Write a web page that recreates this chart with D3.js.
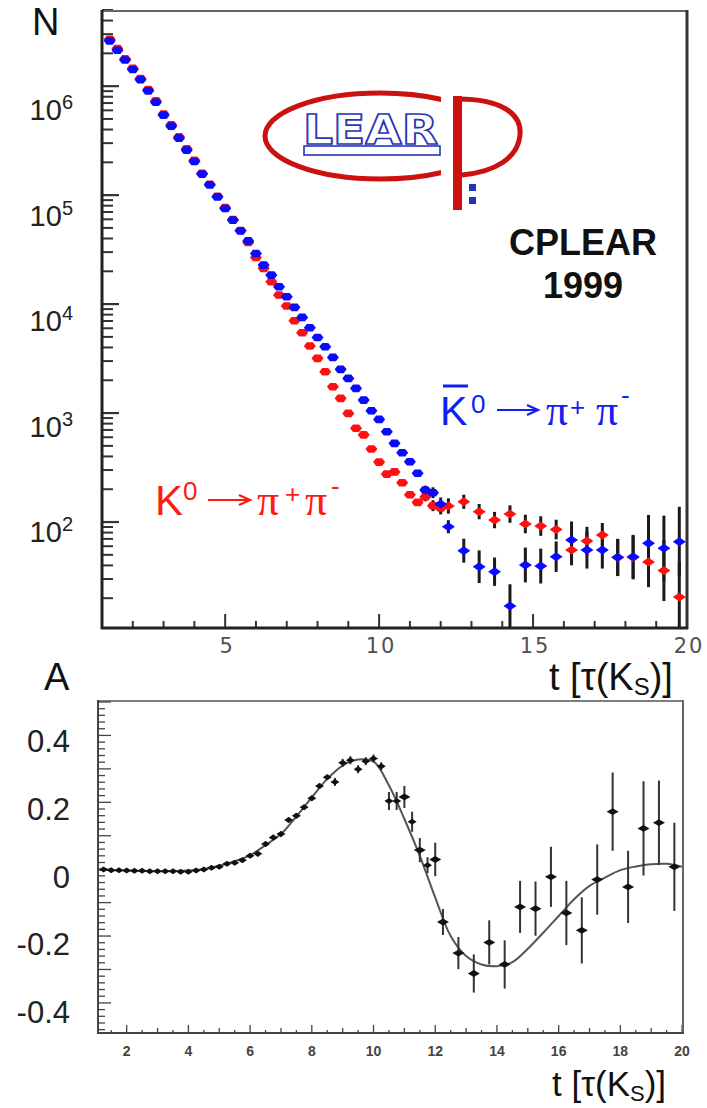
<!DOCTYPE html>
<html><head><meta charset="utf-8">
<script src="https://cdn.jsdelivr.net/npm/d3@7"></script>
<style>body{margin:0;background:#fff}svg{display:block}</style>
</head><body>
<script>
// ---------------- DATA ----------------
// decay-time bins (units of K_S lifetime)
const tBins = [1.25,1.5,1.75,2,2.25,2.5,2.75,3,3.25,3.5,3.75,4,4.25,4.5,4.75,5,5.25,5.5,5.75,6,
  6.25,6.5,6.75,7,7.25,7.5,7.75,8,8.25,8.5,8.75,9,9.25,9.5,9.75,10,10.25,10.5,10.75,11,11.25,11.5,11.75,12,
  12.25,12.75,13.25,13.75,14.25,14.75,15.25,15.75,16.25,16.75,17.25,17.75,18.25,18.75,19.25,19.75];
// log10(N) for K0 -> pi+ pi- (red)
const logNK0 = [6.43,6.345,6.25,6.165,6.07,5.97,5.865,5.745,5.645,5.535,5.425,5.32,5.2,5.1,4.99,4.885,4.775,4.675,
  4.565,4.428,4.328,4.205,4.083,3.982,3.847,3.737,3.615,3.502,3.379,3.241,3.135,2.997,
  2.86,2.8,2.67,2.55,2.44,2.46,2.36,2.25,2.18,2.23,2.15,2.13,
  2.147,2.186,2.095,2.018,2.073,1.982,1.963,1.931,1.743,1.826,1.881,1.674,1.674,1.633,1.555,1.312];
// log10(N) for K0bar -> pi+ pi- (blue)
const logNK0bar = [6.416,6.33,6.24,6.153,6.06,5.957,5.853,5.734,5.633,5.523,5.413,5.309,5.193,5.094,4.984,4.878,4.771,4.672,
  4.58,4.465,4.358,4.266,4.159,4.067,3.97,3.878,3.783,3.694,3.608,3.511,3.401,3.318,
  3.227,3.119,3.021,2.942,2.828,2.722,2.636,2.553,2.447,2.294,2.269,2.165,
  1.957,1.737,1.59,1.544,1.229,1.606,1.596,1.682,1.835,1.743,1.743,1.676,1.682,1.805,1.759,1.82];
// error half-lengths in decades
const errK0 = [0,0,0,0,0,0,0,0,0,0,0,0,0,0,0,0,0,0,0,0,0,0,0,0,0,0,0,0,0,0,0,0,0,0,0,0,0,0,0,0,
  0.03,0.04,0.05,0.06,
  0.07,0.065,0.07,0.075,0.08,0.085,0.09,0.09,0.14,0.13,0.11,0.17,0.2,0.23,0.28,0.32];
const errK0bar = [0,0,0,0,0,0,0,0,0,0,0,0,0,0,0,0,0,0,0,0,0,0,0,0,0,0,0,0,0,0,0,0,0,0,0,0,0,0,0,0,
  0.03,0.04,0.05,0.06,
  0.06,0.11,0.15,0.13,0.2,0.16,0.16,0.14,0.17,0.17,0.17,0.17,0.2,0.26,0.3,0.32];
const topYTicks = [1e2,1e3,1e4,1e5,1e6];
const topYTickExp = ["2","3","4","5","6"];
const topXTicks = [5,10,15,20];

// asymmetry panel
const asym = [-0.001,-0.003,-0.003,-0.004,-0.005,-0.005,-0.006,-0.006,-0.006,-0.006,
  -0.008,-0.008,-0.004,-0.001,0.004,0.007,0.016,0.019,0.027,0.040,
  0.046,0.075,0.095,0.105,0.147,0.160,0.185,0.212,0.249,0.275,
  0.261,0.318,0.326,0.299,0.323,0.331,0.308,0.204,0.204,0.216,
  0.142,0.057,0.012,0.029,
  -0.158,-0.251,-0.312,-0.219,-0.285,-0.113,-0.118,-0.023,-0.131,-0.183,-0.031,0.172,-0.053,0.122,0.139,0.007];
const asymErr = [0.004,0.004,0.004,0.004,0.004,0.004,0.004,0.004,0.004,0.004,
  0.004,0.004,0.004,0.004,0.004,0.004,0.004,0.004,0.004,0.004,
  0.008,0.008,0.008,0.008,0.008,0.008,0.008,0.008,0.008,0.008,
  0.012,0.012,0.012,0.012,0.012,0.012,0.012,0.027,0.027,0.033,
  0.03,0.036,0.024,0.05,
  0.039,0.048,0.057,0.066,0.072,0.078,0.081,0.09,0.096,0.099,0.105,0.117,0.108,0.141,0.126,0.132];
const fitT = [1.07,2,3,4,4.5,5,5.5,6,6.5,7,7.5,8,8.5,9,9.5,10,10.5,11,11.5,12,12.5,13,13.5,14,14.5,15,15.5,16,16.5,17,17.5,18,18.5,19,19.5,20];
const fitA = [-0.002,-0.004,-0.006,-0.004,0.0,0.01,0.024,0.042,0.072,0.105,0.158,0.215,0.27,0.31,0.328,0.322,0.25,0.15,0.04,-0.085,-0.2,-0.26,-0.285,-0.29,-0.278,-0.238,-0.19,-0.14,-0.09,-0.05,-0.025,-0.003,0.008,0.015,0.016,0.007];
const botYTicks = [0.4,0.2,0,-0.2,-0.4];
const botXTicks = [2,4,6,8,10,12,14,16,18,20];

// ---------------- DRAW ----------------
const svg = d3.select("body").append("svg").attr("width",707).attr("height",1108);
const defs = svg.append("defs");
defs.append("clipPath").attr("id","clipT").append("rect").attr("x",103).attr("y",12).attr("width",583).attr("height",615);
defs.append("clipPath").attr("id","clipB").append("rect").attr("x",99).attr("y",702).attr("width",583).attr("height",330);
defs.append("clipPath").attr("id","clipLogo").append("rect").attr("x",250).attr("y",80).attr("width",191).attr("height",120);

const SANS = "'Liberation Sans', Arial, sans-serif";
const SERIF = "'Liberation Serif', 'DejaVu Serif', serif";

// ===== TOP PANEL =====
const xT = d3.scaleLinear().domain([1,20]).range([102,687]);
const yT = d3.scaleLog().domain([10,5e6]).range([631,10]);
const yTLab = d3.scaleLog().domain([1e2,1e6]).range([542,120]);
const gT = svg.append("g");

// logo
const logo = gT.append("g");
logo.append("ellipse").attr("cx",380).attr("cy",136).attr("rx",115).attr("ry",43)
  .attr("fill","none").attr("stroke","#cc1111").attr("stroke-width",5).attr("clip-path","url(#clipLogo)");
logo.append("rect").attr("x",304).attr("y",146).attr("width",136).attr("height",9)
  .attr("fill","#fff").attr("stroke","#2a35b5").attr("stroke-width",1.6);
logo.append("text").attr("x",303).attr("y",144).attr("textLength",135).attr("lengthAdjust","spacingAndGlyphs")
  .attr("font-family","'DejaVu Sans', sans-serif").attr("font-weight","bold").attr("font-size",40)
  .attr("fill","#fff").attr("stroke","#2a35b5").attr("stroke-width",1.6).text("LEAR");
logo.append("rect").attr("x",453).attr("y",96).attr("width",9).attr("height",114).attr("fill","#cc1111");
logo.append("path").attr("d","M458,99 C500,99 522,113 520,135 C518,158 495,172 462,175")
  .attr("fill","none").attr("stroke","#cc1111").attr("stroke-width",5);
logo.append("rect").attr("x",469).attr("y",184).attr("width",7).attr("height",7).attr("fill","#2233bb");
logo.append("rect").attr("x",469).attr("y",197).attr("width",7).attr("height",7).attr("fill","#2233bb");

// CPLEAR 1999
gT.append("text").attr("x",583).attr("y",255).attr("text-anchor","middle").attr("font-family",SANS)
  .attr("font-weight","bold").attr("font-size",36).attr("fill","#111").text("CPLEAR");
gT.append("text").attr("x",583).attr("y",298).attr("text-anchor","middle").attr("font-family",SANS)
  .attr("font-weight","bold").attr("font-size",36).attr("fill","#111").text("1999");

// ticks (inside)
const yMinor = yT.ticks(20).filter(v => v > 10 && !topYTicks.includes(v));
gT.selectAll("line.ymin").data(yMinor).join("line")
  .attr("x1",102).attr("x2",113).attr("y1",d=>yT(d)).attr("y2",d=>yT(d))
  .attr("stroke","#333").attr("stroke-width",2);
gT.selectAll("line.ymaj").data(topYTicks).join("line")
  .attr("x1",102).attr("x2",119).attr("y1",d=>yT(d)).attr("y2",d=>yT(d))
  .attr("stroke","#333").attr("stroke-width",2.2);
const xMinorT = d3.range(2,20).filter(v => !topXTicks.includes(v));
gT.selectAll("line.xmin").data(xMinorT).join("line")
  .attr("x1",d=>xT(d)).attr("x2",d=>xT(d)).attr("y1",628).attr("y2",621)
  .attr("stroke","#333").attr("stroke-width",2);
gT.selectAll("line.xmaj").data(topXTicks).join("line")
  .attr("x1",d=>xT(d)).attr("x2",d=>xT(d)).attr("y1",628).attr("y2",614)
  .attr("stroke","#333").attr("stroke-width",2);

// frame
gT.append("line").attr("x1",102).attr("x2",687).attr("y1",11).attr("y2",11).attr("stroke","#666").attr("stroke-width",2);
gT.append("line").attr("x1",687).attr("x2",687).attr("y1",10).attr("y2",629).attr("stroke","#333").attr("stroke-width",3);
gT.append("line").attr("x1",101).attr("x2",688).attr("y1",628).attr("y2",628).attr("stroke","#222").attr("stroke-width",3);
gT.append("line").attr("x1",102).attr("x2",102).attr("y1",10).attr("y2",629).attr("stroke","#222").attr("stroke-width",3);

// tick labels
topYTicks.forEach((v,i) => {
  const t = gT.append("text").attr("x",73).attr("y",yTLab(v)).attr("text-anchor","end")
    .attr("font-family",SANS).attr("font-size",29).attr("fill","#222");
  t.append("tspan").text("10");
  t.append("tspan").attr("dy",-11).attr("font-size",20).text(topYTickExp[i]);
});
gT.selectAll("text.xl").data(topXTicks).join("text")
  .attr("x",d=>xT(d)+2).attr("y",653).attr("text-anchor","middle")
  .attr("font-family","'DejaVu Sans', sans-serif").attr("font-size",21).attr("letter-spacing",2)
  .attr("fill","#505050").text(d=>String(d));

// axis titles
gT.append("text").attr("x",32).attr("y",35).attr("font-family",SANS).attr("font-size",38).attr("fill","#111").text("N");
function tTitle(g, x, y, size){
  const t = g.append("text").attr("x",x).attr("y",y).attr("font-family",SANS).attr("font-size",size).attr("fill","#111");
  t.append("tspan").text("t [τ(K");
  t.append("tspan").attr("dy",5).attr("font-size",size*0.63).text("S");
  t.append("tspan").attr("dy",-5).text(")]");
}
tTitle(gT, 549, 690, 38);

// data
const dataT = tBins.map((t,i) => ({t, r:logNK0[i], re:errK0[i], b:logNK0bar[i], be:errK0bar[i]}));
const plotT = gT.append("g").attr("clip-path","url(#clipT)");
const p10 = v => Math.pow(10, v);
plotT.selectAll("line.er").data(dataT.filter(d=>d.re>0)).join("line")
  .attr("x1",d=>xT(d.t)).attr("x2",d=>xT(d.t))
  .attr("y1",d=>yT(p10(d.r-d.re))).attr("y2",d=>yT(p10(d.r+d.re)))
  .attr("stroke","#1a1a1a").attr("stroke-width",3);
plotT.selectAll("line.eb").data(dataT.filter(d=>d.be>0)).join("line")
  .attr("x1",d=>xT(d.t)).attr("x2",d=>xT(d.t))
  .attr("y1",d=>yT(p10(d.b-d.be))).attr("y2",d=>yT(p10(d.b+d.be)))
  .attr("stroke","#1a1a1a").attr("stroke-width",3);
const hexPath = "M-6,0L-3,-3.8L3,-3.8L6,0L3,3.8L-3,3.8Z";
const diaPath = "M-6.5,0L0,-4.5L6.5,0L0,4.5Z";
plotT.selectAll("path.r").data(dataT).join("path")
  .attr("d",d=>d.re>0.06 ? diaPath : hexPath)
  .attr("transform",d=>`translate(${xT(d.t)},${yT(p10(d.r))})`)
  .attr("fill","#ff1010");
plotT.selectAll("path.b").data(dataT).join("path")
  .attr("d",d=>d.be>0.05 ? diaPath : hexPath)
  .attr("transform",d=>`translate(${xT(d.t)},${yT(p10(d.b))})`)
  .attr("fill","#0a0aff");

// labels K0 / K0bar
function piece(g, s, x, y, size, fam, color){
  return g.append("text").attr("x",x).attr("y",y).attr("font-family",fam).attr("font-size",size).attr("fill",color).text(s);
}
function arrow(g, x1, x2, y, color){
  g.append("path").attr("d",`M${x1},${y}L${x2},${y}M${x2-11},${y-5}L${x2},${y}L${x2-11},${y+5}`)
    .attr("fill","none").attr("stroke",color).attr("stroke-width",2.2);
}
const BLUE = "#1020f0", RED = "#ff1a10";
// blue label
piece(gT,"K",440,425,41,SANS,BLUE);
gT.append("line").attr("x1",443).attr("x2",468).attr("y1",386).attr("y2",386).attr("stroke",BLUE).attr("stroke-width",3);
piece(gT,"0",471,413,26,SANS,BLUE);
arrow(gT,497,538,410,BLUE);
piece(gT,"π",546,425,44,SERIF,BLUE);
piece(gT,"+",570,416,26,SANS,BLUE);
piece(gT,"π",596,425,44,SERIF,BLUE);
piece(gT,"-",621,404,26,SANS,BLUE);
// red label
piece(gT,"K",155,515,42,SANS,RED);
piece(gT,"0",183,500,26,SANS,RED);
arrow(gT,208,250,500,RED);
piece(gT,"π",257,515,44,SERIF,RED);
piece(gT,"+",285,503,26,SANS,RED);
piece(gT,"π",305,515,44,SERIF,RED);
piece(gT,"-",331,495,26,SANS,RED);

// ===== BOTTOM PANEL =====
const xB = d3.scaleLinear().domain([1.07,20.03]).range([98,683]);
const yB = d3.scaleLinear().domain([-0.49,0.503]).range([1033,701]);
const yBLab = d3.scaleLinear().domain([-0.4,0.4]).range([1023,752]);
const gB = svg.append("g");

const yTicksB = yB.ticks(50);
gB.selectAll("line.yb").data(yTicksB).join("line")
  .attr("x1",98).attr("x2",d => Math.abs(d*10-Math.round(d*10))<1e-6 ? 111 : 105)
  .attr("y1",d=>yB(d)).attr("y2",d=>yB(d)).attr("stroke","#444").attr("stroke-width",1.3);
const xTicksB = xB.ticks(40).filter(v => v > 1.1);
gB.selectAll("line.xb").data(xTicksB).join("line")
  .attr("x1",d=>xB(d)).attr("x2",d=>xB(d)).attr("y1",1033)
  .attr("y2",d => d%2===0 ? 1025 : (d%1===0 ? 1028 : 1030))
  .attr("stroke","#444").attr("stroke-width",1.3);

gB.append("line").attr("x1",98).attr("x2",683).attr("y1",701).attr("y2",701).attr("stroke","#555").attr("stroke-width",1.6);
gB.append("line").attr("x1",683).attr("x2",683).attr("y1",700).attr("y2",1034).attr("stroke","#666").attr("stroke-width",2);
gB.append("line").attr("x1",97).attr("x2",684).attr("y1",1033).attr("y2",1033).attr("stroke","#444").attr("stroke-width",2);
gB.append("line").attr("x1",98).attr("x2",98).attr("y1",700).attr("y2",1034).attr("stroke","#444").attr("stroke-width",2);

gB.selectAll("text.yl").data(botYTicks).join("text")
  .attr("x",70).attr("y",d=>yBLab(d)).attr("text-anchor","end")
  .attr("font-family",SANS).attr("font-size",31).attr("fill","#222")
  .text(d => d===0 ? "0" : (d<0 ? "-" : "") + Math.abs(d).toFixed(1));
gB.selectAll("text.xl").data(botXTicks).join("text")
  .attr("x",d=>xB(d)).attr("y",1056).attr("text-anchor","middle")
  .attr("font-family",SANS).attr("font-weight","bold").attr("font-size",14).attr("fill","#444")
  .text(d=>String(d));

gB.append("text").attr("x",44).attr("y",690).attr("font-family",SANS).attr("font-size",38).attr("fill","#111").text("A");
tTitle(gB, 552, 1096, 35);

const plotB = gB.append("g").attr("clip-path","url(#clipB)");
const fitLine = d3.line().x((d,i)=>xB(fitT[i])).y(d=>yB(d)).curve(d3.curveCatmullRom);
plotB.append("path").attr("d",fitLine(fitA)).attr("fill","none").attr("stroke","#555").attr("stroke-width",2);
const dataB = tBins.map((t,i)=>({t, a:asym[i], e:asymErr[i]}));
plotB.selectAll("line.eb").data(dataB).join("line")
  .attr("x1",d=>xB(d.t)).attr("x2",d=>xB(d.t))
  .attr("y1",d=>yB(d.a-d.e)).attr("y2",d=>yB(d.a+d.e))
  .attr("stroke","#333").attr("stroke-width",2);
plotB.selectAll("path.m").data(dataB).join("path")
  .attr("d",d => d.e>0.03 ? "M-6,0L0,-3.4L6,0L0,3.4Z" : "M-4.5,0L0,-3L4.5,0L0,3Z")
  .attr("transform",d=>`translate(${xB(d.t)},${yB(d.a)})`)
  .attr("fill","#111");
</script>
</body></html>
